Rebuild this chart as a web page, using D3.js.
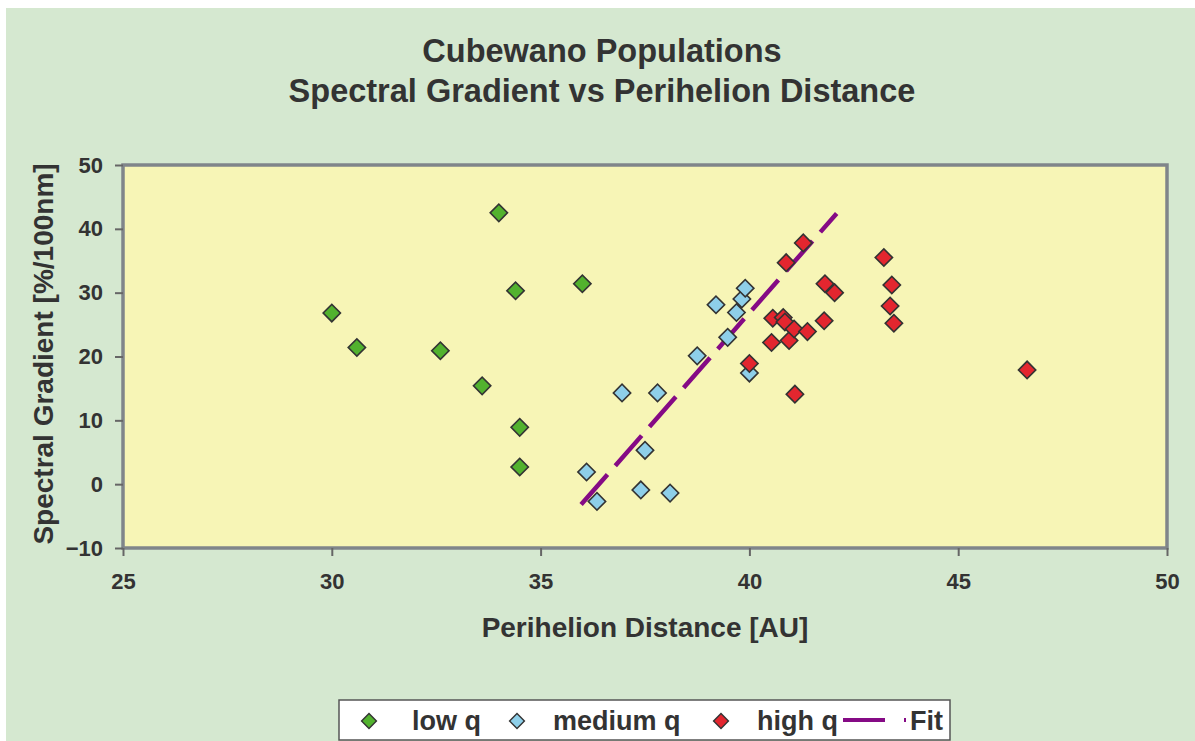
<!DOCTYPE html>
<html>
<head>
<meta charset="utf-8">
<script src="https://cdn.jsdelivr.net/npm/d3@7"></script>
<style>
  body { margin: 0; background: #ffffff; }
  text { font-family: "Liberation Sans", Arial, sans-serif; font-weight: bold; fill: #333333; }
</style>
</head>
<body>
<div id="chart"></div>
<script>
// Cubewano populations: spectral gradient vs perihelion distance

const lowQx = [30.0, 30.6, 32.6, 33.6, 34.0, 34.4, 34.5, 34.5, 36.0];
const lowQy = [26.8, 21.4, 20.9, 15.4, 42.5, 30.3, 8.9, 2.7, 31.4];

const medQx = [36.1, 36.35, 36.95, 37.8, 37.5, 37.4, 38.1, 38.75, 39.2, 39.48, 39.69, 39.82, 39.9, 40.0];
const medQy = [1.9, -2.7, 14.3, 14.3, 5.3, -0.9, -1.4, 20.1, 28.1, 23.0, 26.9, 29.0, 30.7, 17.4];

const highQx = [40.0, 40.53, 40.56, 40.81, 40.85, 40.88, 40.95, 41.07, 41.09, 41.29, 41.39, 41.79, 41.81, 42.04, 43.22, 43.41, 43.37, 43.46, 46.65];
const highQy = [18.9, 22.2, 26.0, 26.1, 25.4, 34.7, 22.5, 24.3, 14.1, 37.8, 23.9, 25.6, 31.4, 30.0, 35.5, 31.2, 27.9, 25.2, 17.9];

const fitX = [35.97, 42.09];
const fitY = [-3.2, 42.4];

const xTicks = [25, 30, 35, 40, 45, 50];
const yTicks = [-10, 0, 10, 20, 30, 40, 50];

const seriesNames = ["low q", "medium q", "high q"];
const seriesColors = ["#52b22e", "#8ecfe9", "#e3262f"];
const fitName = "Fit";
const fitColor = "#850a85";

const width = 1195;
const height = 741;
const margin = { top: 165, right: 28, bottom: 193, left: 123 };

const svg = d3.select("#chart")
  .append("svg")
  .attr("width", width)
  .attr("height", height);

// page background
svg.append("rect")
  .attr("x", 6)
  .attr("y", 8)
  .attr("width", width - 6)
  .attr("height", height - 8)
  .attr("fill", "#d5e8d0");

const x = d3.scaleLinear()
  .domain([25, 50])
  .range([margin.left, width - margin.right]);

const y = d3.scaleLinear()
  .domain([-10, 50])
  .range([height - margin.bottom, margin.top]);

// plot area
svg.append("rect")
  .attr("x", x(25))
  .attr("y", y(50))
  .attr("width", x(50) - x(25))
  .attr("height", y(-10) - y(50))
  .attr("fill", "#f7f5b6")
  .attr("stroke", "#80858a")
  .attr("stroke-width", 3.5);

// title
svg.append("text")
  .attr("x", 602)
  .attr("y", 62)
  .attr("text-anchor", "middle")
  .style("font-size", "32.5px")
  .text("Cubewano Populations");

svg.append("text")
  .attr("x", 602)
  .attr("y", 102)
  .attr("text-anchor", "middle")
  .style("font-size", "32.5px")
  .text("Spectral Gradient vs Perihelion Distance");

// axes
const xAxis = svg.append("g")
  .attr("transform", `translate(0,${y(-10)})`)
  .call(d3.axisBottom(x).tickValues(xTicks).tickSize(8).tickPadding(17));

const yAxis = svg.append("g")
  .attr("transform", `translate(${x(25)},0)`)
  .call(d3.axisLeft(y).tickValues(yTicks).tickSize(8).tickPadding(12));

[xAxis, yAxis].forEach(g => {
  g.select(".domain").remove();
  g.selectAll(".tick line")
    .attr("stroke", "#666666")
    .attr("stroke-width", 2);
  g.selectAll(".tick text")
    .style("font-size", "22px")
    .style("font-family", "'Liberation Sans', Arial, sans-serif")
    .style("font-weight", "bold")
    .attr("fill", "#333333");
});

// axis titles
svg.append("text")
  .attr("x", 645)
  .attr("y", 637)
  .attr("text-anchor", "middle")
  .style("font-size", "28px")
  .text("Perihelion Distance [AU]");

svg.append("text")
  .attr("transform", "rotate(-90)")
  .attr("x", -354)
  .attr("y", 53)
  .attr("text-anchor", "middle")
  .style("font-size", "28px")
  .text("Spectral Gradient [%/100nm]");

// fit line
svg.append("line")
  .attr("x1", x(fitX[0]))
  .attr("y1", y(fitY[0]))
  .attr("x2", x(fitX[1]))
  .attr("y2", y(fitY[1]))
  .attr("stroke", fitColor)
  .attr("stroke-width", 4.5)
  .attr("stroke-dasharray", "40,11.8");

// points
const diamond = d3.symbol().type(d3.symbolSquare).size(150);
const diamondSmall = d3.symbol().type(d3.symbolSquare).size(110);

const series = [
  { xs: lowQx, ys: lowQy },
  { xs: medQx, ys: medQy },
  { xs: highQx, ys: highQy }
];

series.forEach((s, i) => {
  const pts = s.xs.map((v, j) => ({ x: v, y: s.ys[j] }));
  svg.append("g")
    .selectAll("path")
    .data(pts)
    .enter()
    .append("path")
    .attr("d", diamond)
    .attr("transform", d => `translate(${x(d.x)},${y(d.y)}) rotate(45)`)
    .attr("fill", seriesColors[i])
    .attr("stroke", "#333333")
    .attr("stroke-width", 1.6);
});

// legend
const legend = svg.append("g");

legend.append("rect")
  .attr("x", 339)
  .attr("y", 700)
  .attr("width", 611)
  .attr("height", 40)
  .attr("fill", "#ffffff")
  .attr("stroke", "#555555")
  .attr("stroke-width", 1.5);

const markerX = [369, 517, 721];
const labelX = [412, 553, 757];

seriesNames.forEach((name, i) => {
  legend.append("path")
    .attr("d", diamondSmall)
    .attr("transform", `translate(${markerX[i]},721) rotate(45)`)
    .attr("fill", seriesColors[i])
    .attr("stroke", "#333333")
    .attr("stroke-width", 1.4);

  legend.append("text")
    .attr("x", labelX[i])
    .attr("y", 730)
    .style("font-size", "27px")
    .text(name);
});

legend.append("line")
  .attr("x1", 843)
  .attr("y1", 720)
  .attr("x2", 906)
  .attr("y2", 720)
  .attr("stroke", fitColor)
  .attr("stroke-width", 4)
  .attr("stroke-dasharray", "42,19");

legend.append("text")
  .attr("x", 910)
  .attr("y", 730)
  .style("font-size", "27px")
  .text(fitName);
</script>
</body>
</html>
